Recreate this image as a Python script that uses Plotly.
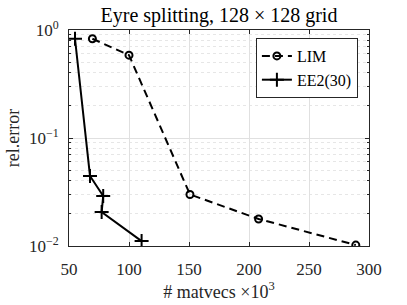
import plotly.graph_objects as go

lim_x = [69.5, 100, 150.8, 208, 289]
lim_y = [0.83, 0.585, 0.030, 0.0178, 0.0102]
ee2_x = [55, 67.5, 78.5, 77.2, 110.5]
ee2_y = [0.83, 0.0445, 0.029, 0.0206, 0.0111]

xticks = [50, 100, 150, 200, 250, 300]
yticks = [1, 0.1, 0.01]
yticktext = ["10<sup>0</sup>", "10<sup>−1</sup>", "10<sup>−2</sup>"]

font = "Liberation Serif"
fig = go.Figure()
fig.add_trace(go.Scatter(x=lim_x, y=lim_y, name="LIM", mode="lines+markers",
                         line=dict(color="black", width=2, dash="8px,5px"),
                         marker=dict(symbol="circle-open", size=7, color="black", line=dict(width=2))))
fig.add_trace(go.Scatter(x=ee2_x, y=ee2_y, name="EE2(30)", mode="lines+markers",
                         line=dict(color="black", width=2),
                         marker=dict(symbol="cross-thin-open", size=10, color="black", line=dict(width=2))))

minor = []
for d in [0.01, 0.1]:
    for k in range(2, 10):
        minor.append(d * k)

fig.update_layout(
    width=407, height=305,
    margin=dict(l=69, r=38, t=30, b=59),
    paper_bgcolor="white", plot_bgcolor="white",
    font=dict(family=font, size=17, color="#262626"),
    title=dict(text="Eyre splitting, 128 × 128 grid", x=219/407, xanchor="center", y=1 - 15/305,
               yanchor="middle", font=dict(family=font, size=20, color="black"), automargin=False),
    showlegend=True,
    legend=dict(x=0.963, y=0.963, xanchor="right", yanchor="top",
                bordercolor="#262626", borderwidth=1, bgcolor="white",
                font=dict(family=font, size=16, color="black"),
                itemwidth=30, tracegroupgap=0),
    xaxis=dict(range=[50, 300], tickvals=xticks, showgrid=True, gridcolor="#e0e0e0", gridwidth=1,
               ticks="inside", ticklen=4, tickcolor="#262626", showline=True, mirror="ticks",
               linecolor="#262626", linewidth=1, zeroline=False, automargin=False,
               ticklabelstandoff=8,
               title=dict(text="# matvecs ×10<sup>3</sup>", standoff=4, font=dict(family=font, size=18))),
    yaxis=dict(type="log", range=[-2, 0], tickvals=yticks, ticktext=yticktext, showgrid=True,
               gridcolor="#e0e0e0", ticks="inside", ticklen=4, tickcolor="#262626", showline=True,
               mirror="ticks", linecolor="#262626", linewidth=1, zeroline=False, automargin=False,
               ticklabelstandoff=6,
               minor=dict(tickvals=minor, showgrid=True, gridcolor="#e6e6e6", griddash="dot", ticks="inside",
                          ticklen=2, tickcolor="#262626"),
               title=dict(text="rel.error", standoff=4, font=dict(family=font, size=18))),
)
fig.write_html("out.html", config={"displayModeBar": False},
               post_script="document.body.style.margin='0px';")
